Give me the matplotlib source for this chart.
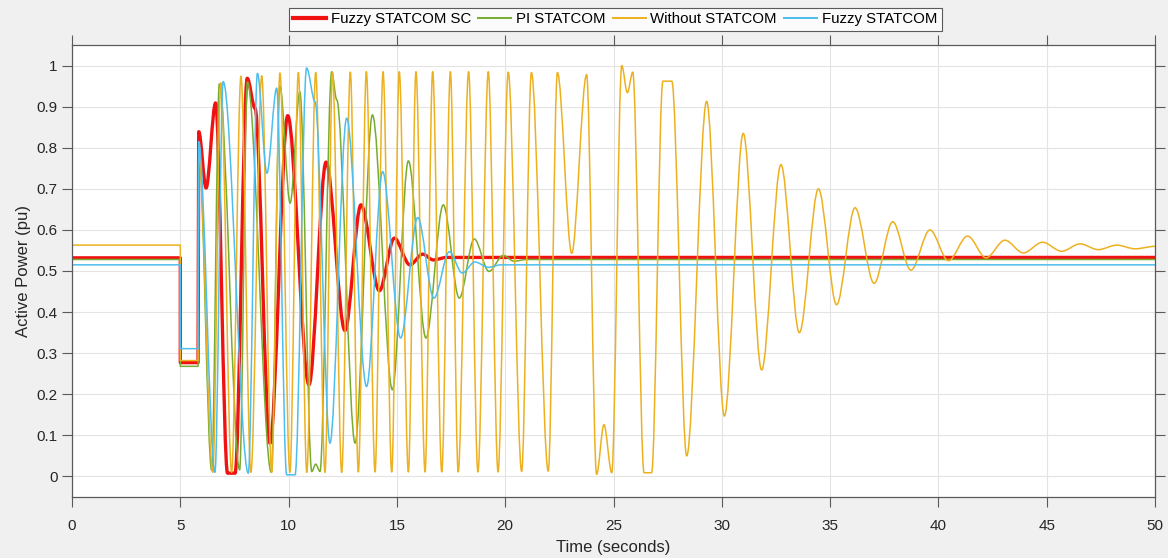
import matplotlib
matplotlib.use("Agg")
import matplotlib.pyplot as plt
from matplotlib.path import Path
from matplotlib.patches import PathPatch
from matplotlib.lines import Line2D

plt.rcParams['font.family'] = ['Liberation Sans', 'DejaVu Sans']

# ---------------- data (key points) ----------------
t_red = [0, 5.0, 5.0, 5.82, 5.85, 6.19, 6.63, 7.18, 7.53, 8.09, 8.45, 9.14, 9.96,
         10.94, 11.73, 12.60, 13.34, 14.19, 14.88, 15.60, 16.19, 16.68, 17.3, 50]
v_red = [0.532, 0.532, 0.277, 0.277, 0.839, 0.702, 0.909, 0.008, 0.008, 0.969, 0.896,
         0.081, 0.878, 0.223, 0.765, 0.355, 0.661, 0.452, 0.580, 0.515, 0.541, 0.527,
         0.533, 0.533]

t_green = [0, 5.0, 5.0, 5.82, 5.85, 6.45, 6.80, 7.74, 8.10, 9.20, 9.60, 10.07, 10.52,
           11.07, 11.25, 11.45, 11.99, 12.22, 13.07, 13.87, 14.79, 15.53, 16.34, 17.14,
           17.88, 18.57, 19.25, 19.91, 20.40, 21.0, 50]
v_green = [0.528, 0.528, 0.268, 0.268, 0.800, 0.015, 0.955, 0.016, 0.960, 0.010, 0.950,
           0.665, 0.936, 0.012, 0.030, 0.012, 0.985, 0.917, 0.081, 0.880, 0.211, 0.768,
           0.337, 0.661, 0.434, 0.578, 0.499, 0.538, 0.524, 0.528, 0.528]

t_yellow = [0, 5.0, 5.0, 5.82, 5.85, 6.50, 6.87, 7.37, 7.80, 8.26, 8.76, 9.22, 9.60,
            10.06, 10.45, 10.84, 11.25, 11.68, 12.03, 12.45, 12.85, 13.22, 13.59, 13.99,
            14.36, 14.76, 15.11, 15.53, 15.88, 16.30, 16.65, 17.07, 17.47, 17.83, 18.31,
            18.74, 19.22, 19.67, 20.14, 20.76, 21.21, 21.99, 22.41, 23.07, 23.76, 24.22,
            24.56, 24.92, 25.38, 25.64, 25.89, 26.41, 26.76, 27.28, 27.69, 28.38, 29.30,
            30.12, 30.99, 31.84, 32.73, 33.58, 34.46, 35.30, 36.15, 37.03, 37.89, 38.73,
            39.61, 40.46, 41.35, 42.20, 43.07, 43.92, 44.81, 45.69, 46.54, 47.38, 48.23,
            49.08, 50]
v_yellow = [0.563, 0.563, 0.282, 0.282, 0.800, 0.010, 0.958, 0.010, 0.974, 0.010, 0.975,
            0.010, 0.982, 0.010, 0.983, 0.010, 0.983, 0.010, 0.983, 0.010, 0.984, 0.011,
            0.985, 0.011, 0.985, 0.011, 0.985, 0.011, 0.985, 0.011, 0.985, 0.011, 0.985,
            0.011, 0.985, 0.011, 0.985, 0.011, 0.984, 0.012, 0.983, 0.013, 0.983, 0.543,
            0.978, 0.005, 0.126, 0.009, 1.000, 0.934, 0.984, 0.009, 0.009, 0.962, 0.962,
            0.050, 0.913, 0.147, 0.835, 0.259, 0.759, 0.350, 0.700, 0.418, 0.654, 0.470,
            0.620, 0.502, 0.600, 0.525, 0.585, 0.532, 0.575, 0.544, 0.570, 0.548, 0.566,
            0.552, 0.563, 0.554, 0.560]

t_blue = [0, 5.0, 5.0, 5.82, 5.85, 6.60, 6.98, 8.14, 8.56, 9.00, 9.45, 9.91, 10.30,
          10.83, 11.22, 11.91, 12.68, 13.60, 14.34, 15.17, 15.96, 16.71, 17.42, 18.02,
          18.60, 19.22, 19.80, 50]
v_blue = [0.515, 0.515, 0.311, 0.311, 0.815, 0.010, 0.961, 0.008, 0.981, 0.738, 0.945,
          0.004, 0.004, 0.994, 0.912, 0.081, 0.872, 0.219, 0.742, 0.337, 0.630, 0.434,
          0.547, 0.495, 0.522, 0.509, 0.515, 0.515]

series_names = ['Fuzzy STATCOM SC', 'PI STATCOM', 'Without STATCOM', 'Fuzzy STATCOM']
x_ticks = [0, 5, 10, 15, 20, 25, 30, 35, 40, 45, 50]
y_ticks = [0, 0.1, 0.2, 0.3, 0.4, 0.5, 0.6, 0.7, 0.8, 0.9, 1]
y_tick_labels = ['0', '0.1', '0.2', '0.3', '0.4', '0.5', '0.6', '0.7', '0.8', '0.9', '1']

colors = ['#f01212', '#77ac30', '#edb120', '#4dbeee']
widths = [2.4, 1.1, 1.1, 1.1]


def smooth_path(t, v):
    """Smooth curve through the key points (zero slope at each key point)."""
    verts = [(t[0], v[0])]
    codes = [Path.MOVETO]
    for i in range(1, len(t)):
        t0, v0, t1, v1 = t[i - 1], v[i - 1], t[i], v[i]
        dt = t1 - t0
        verts += [(t0 + dt / 3.0, v0), (t1 - dt / 3.0, v1), (t1, v1)]
        codes += [Path.CURVE4] * 3
    return Path(verts, codes)


fig = plt.figure(figsize=(11.68, 5.58), dpi=100, facecolor='#f0f0f0')
ax = fig.add_axes([72 / 1168, 1 - 497 / 558, 1083 / 1168, 452 / 558])
ax.set_facecolor('white')

data = [(t_red, v_red), (t_green, v_green), (t_yellow, v_yellow), (t_blue, v_blue)]
handles = []
for (t, v), c, w, name in zip(data, colors, widths, series_names):
    patch = PathPatch(smooth_path(t, v), facecolor='none', edgecolor=c, lw=w,
                      joinstyle='round', capstyle='round', transform=ax.transData)
    ax.add_patch(patch)
    handles.append(Line2D([], [], color=c, lw=w + (0.6 if w > 2 else 0.3), label=name))

ax.set_xlim(0, 50)
ax.set_ylim(-0.05, 1.05)
ax.set_xticks(x_ticks)
ax.set_yticks(y_ticks)
ax.set_yticklabels(y_tick_labels)
ax.grid(True, color='#e3e3e3', lw=0.8)
ax.set_axisbelow(True)
ax.tick_params(direction='out', length=7, width=0.8, color='#5a5a5a',
               labelsize=11, labelcolor='#262626', top=True, right=True)
ax.tick_params(axis='x', pad=9)
for s in ax.spines.values():
    s.set_color('#5a5a5a')
    s.set_linewidth(0.9)

ax.set_xlabel('Time (seconds)', fontsize=12, color='#262626', labelpad=5)
ax.set_ylabel('Active Power (pu)', fontsize=12, color='#262626', labelpad=4)

leg = ax.legend(handles=handles, ncol=4, loc='center', bbox_to_anchor=(0.5015, 1.057),
                fontsize=10.8, frameon=True, fancybox=False, handlelength=2.2,
                handletextpad=0.3, columnspacing=0.5, borderpad=0.3, borderaxespad=0)
leg.get_frame().set_edgecolor('#333333')
leg.get_frame().set_linewidth(0.8)

fig.savefig('out.png', dpi=100, facecolor=fig.get_facecolor())
